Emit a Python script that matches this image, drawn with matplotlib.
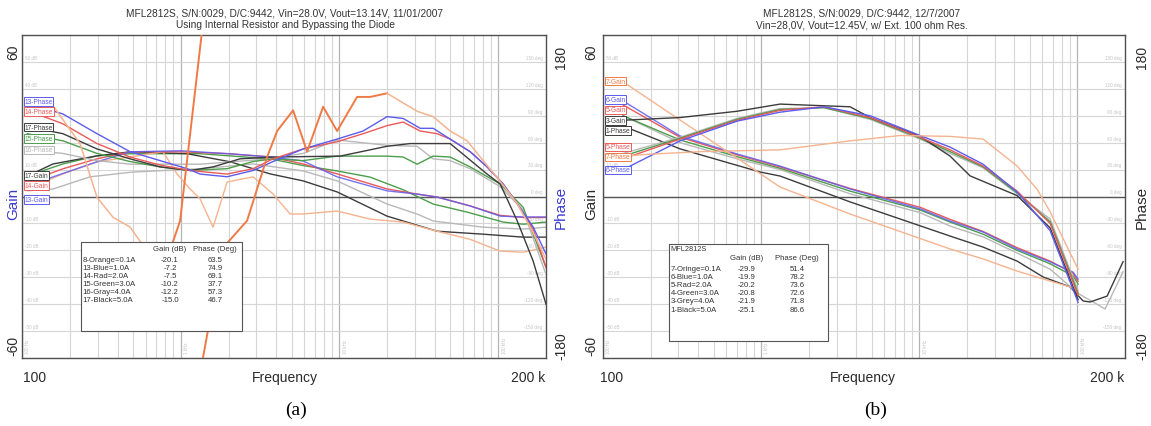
import numpy as np
import matplotlib
matplotlib.use('Agg')
import matplotlib.pyplot as plt
from matplotlib.ticker import LogLocator, MultipleLocator, NullFormatter
from matplotlib.patches import Rectangle

plt.rcParams['font.family'] = ['Liberation Sans', 'DejaVu Sans']

W, H = 1151, 427

# ---------------- panel (a) data ----------------
a_title = ["MFL2812S, S/N:0029, D/C:9442, Vin=28.0V, Vout=13.14V, 11/01/2007",
           "Using Internal Resistor and Bypassing the Diode"]

a8_gain_f = [108, 181, 297, 479, 773, 948, 1146, 1325, 1598, 1959, 2858, 3821, 4889, 5902, 9663,
             15600, 25180, 41210, 66500, 102800, 143600, 200000]
a8_gain = [2.8, 8.4, 12.9, 14.7, 16.6, 8.4, 2.8, -0.9, -11.4, 5.4, 7.3, 0.9, -6.5, -6.5, -5.4,
           -8.4, -9.5, -12.9, -15.9, -20.3, -20.7, -18.8]
a8_phase_f = [108, 157, 232, 297, 374, 479, 614, 741, 857, 991, 1363, np.nan, 1363, 1849, 2618,
              3500, 4048, 5105, 6252, 7889, 9663, 12920, 15600, 19950, 30840, 38900, 49800,
              63700, 80400, 102800, 131600, 166000, 200000]
a8_phase = [100, 101, 59, -1, -23, -34, -61, -100, -60, -27, 185, np.nan, -185, -57, -27,
            44, 73, 96, 50, 100, 73, 111, 111, 115, 95, 89, 73,
            62, 40, 17, -8, -40, -70]

a13_gain_f = [108, 157, 297, 479, 1000, 2000, 3657, 5902, 9663, 19950, 30840, 41210, 66500, 102800, 143600, 200000]
a13_gain = [3.5, 7.3, 12.9, 16.6, 17.0, 15.9, 14.7, 13.2, 7.3, 2.1, 0.9, -0.2, -3.5, -7.3, -7.6, -7.6]
a13_phase_f = [108, 181, 297, 479, 741, 1097, 1325, 1959, 2858, 3821, 5902, 9663, 14090, 19950, 25180,
               32220, 38900, 49800, 66500, 85100, 107400, 131600, 166000, 200000]
a13_phase = [104, 92, 70, 50, 40, 31, 25, 22, 29, 39, 53, 64, 73, 89, 87,
             76, 76, 64, 50, 33, 14, -8, -34, -64]

a14_gain_f = [108, 181, 297, 479, 1000, 2000, 3657, 5902, 9663, 19950, 30840, 41210, 66500, 102800, 143600, 200000]
a14_gain = [5.4, 10.3, 14.0, 16.6, 16.6, 15.9, 14.7, 12.1, 8.4, 2.8, 0.9, -0.2, -3.5, -7.0, -7.8, -7.8]
a14_phase_f = [108, 181, 297, 479, 741, 1146, 1959, 2858, 3821, 5902, 9663, 14090, 19950, 25180,
               32220, 41210, 49800, 66500, 85100, 107400, 131600, 166000, 200000]
a14_phase = [96, 81, 59, 44, 35, 29, 25, 31, 42, 53, 61, 70, 79, 83,
             73, 70, 64, 50, 33, 14, -8, -36, -79]

a15_gain_f = [108, 181, 297, 479, 1325, 3657, 5902, 9663, 15600, 25180, 38900, 63700, 107400, 143600, 200000]
a15_gain = [7.6, 12.1, 15.1, 15.9, 15.9, 14.0, 11.5, 9.5, 7.2, 2.5, -2.8, -5.8, -9.5, -10.3, -9.5]
a15_phase_f = [108, 181, 297, 479, 741, 1146, 1959, 2858, 3821, 5902, 9663, 19950, 25180, 30840,
               38900, 49800, 66500, 102800, 143600, 200000]
a15_phase = [70, 62, 48, 39, 33, 29, 31, 39, 42, 40, 45, 45, 44, 36,
             45, 44, 33, 14, -12, -79]

a16_gain_f = [108, 157, 268, 500, 1325, 2858, 5902, 9663, 19950, 30840, 38900, 80400, 143600, 200000]
a16_gain = [2.1, 2.8, 7.3, 9.1, 10.3, 12.1, 9.5, 5.8, -2.8, -6.5, -9.1, -11.4, -12.1, -11.4]
a16_phase_f = [108, 181, 297, 479, 1325, 3657, 5902, 9663, 19950, 30840, 38900, 49800, 66500, 102800, 143600, 200000]
a16_phase = [52, 48, 40, 36, 36, 42, 48, 63, 57, 56, 42, 40, 31, 11, -15, -87]

a17_gain_f = [108, 157, 297, 479, 1097, 2047, 3657, 5902, 9663, 19950, 41210, 80400, 143600, 200000]
a17_gain = [7.6, 12.1, 15.1, 16.6, 15.9, 12.9, 8.4, 5.8, 1.7, -7.3, -12.9, -14.0, -15.1, -15.1]
a17_phase_f = [108, 181, 297, 479, 741, 1146, 1598, 2366, 3821, 10090, 19950, 27870, 49800, 85100,
               102800, 131600, 166000, 200000]
a17_phase = [78, 70, 53, 42, 33, 29, 33, 42, 44, 45, 56, 59, 59, 25,
             14, -27, -72, -120]

a_tab_names = ["8-Orange=0.1A", "13-Blue=1.0A", "14-Rad=2.0A", "15-Green=3.0A", "16-Gray=4.0A", "17-Black=5.0A"]
a_tab_gain = ["-20.1", "-7.2", "-7.5", "-10.2", "-12.2", "-15.0"]
a_tab_phase = ["63.5", "74.9", "69.1", "37.7", "57.3", "46.7"]

# ---------------- panel (b) data ----------------
b_title = ["MFL2812S, S/N:0029, D/C:9442, 12/7/2007",
           "Vin=28,0V, Vout=12.45V, w/ Ext. 100 ohm Res."]

b7_gain_f = [134, 307, 704, 1318, 3650, 15670, 25330, 41560, 67200, 89960, 101000]
b7_gain = [42.6, 28.4, 14.3, 3.5, -6.5, -19.5, -23.2, -27.7, -31.4, -33.6, -35.5]
b7_phase_f = [134, 190, 411, 1318, 3650, 7565, 15670, 25330, 41560, 55620, 67200, 81250, 101000]
b7_phase = [45, 47, 50, 52, 62, 68, 67, 64, 34, 8, -17, -47, -81]

b_gain_f = [134, 307, 704, 1318, 3650, 10120, 15670, 25330, 41560, 67200, 93970, 101000]
b6_gain = [35.5, 22.5, 15.8, 11.3, 2.8, -4.6, -9.1, -13.2, -19.5, -24.3, -28.1, -30.7]
b5_gain = [34.0, 22.0, 15.5, 11.0, 3.0, -4.0, -8.5, -13.0, -19.0, -24.0, -28.5, -31.5]
b4_gain = [30.0, 21.0, 14.8, 10.5, 2.0, -5.0, -9.5, -14.0, -20.0, -25.0, -29.5, -32.5]

b3_gain_f = [134, 307, 704, 1318, 3650, 10120, 15670, 25330, 41560, 67200, 101000, 125700, 149600, 194500]
b3_gain = [30.0, 20.0, 14.0, 10.0, 1.0, -6.0, -11.0, -15.0, -21.0, -27.0, -36.0, -39.2, -41.8, -28.0]
b1_gain_f = [134, 307, 985, 1318, 3650, 15670, 25330, 41560, 60710, 89960, 108600, 120300, 154100, 194500]
b1_gain = [26.2, 17.7, 9.1, 7.6, -2.0, -14.7, -18.8, -24.0, -29.9, -33.6, -38.8, -39.2, -37.0, -24.2]

b_phase_f = [134, 307, 704, 1318, 2500, 4885, 10120, 15670, 25330, 41560, 67200, 101000]
b6_phase = [30, 62, 84, 94, 100, 90, 68, 55, 36, 5, -38, -118]
b5_phase = [42, 64, 85, 96, 100, 88, 66, 52, 34, 6, -30, -110]
b4_phase = [45, 65, 86, 97, 99, 87, 65, 50, 33, 4, -28, -108]
b3_phase = [48, 66, 87, 98, 99, 86, 64, 48, 32, 3, -25, -105]
b1_phase_f = [134, 307, 704, 1318, 3650, 4885, 10120, 15670, 20950, 41560, 67200, 101000]
b1_phase = [85, 88, 95, 103, 100, 88, 67, 45, 23, 1, -35, -115]

b_tab_names = ["7-Oringe=0.1A", "6-Blue=1.0A", "5-Rad=2.0A", "4-Green=3.0A", "3-Grey=4.0A", "1-Black=5.0A"]
b_tab_gain = ["-29.9", "-19.9", "-20.2", "-20.8", "-21.9", "-25.1"]
b_tab_phase = ["51.4", "78.2", "73.6", "72.6", "71.8", "86.6"]

# ---------------- colours ----------------
C_OR = '#f07a45'
C_ORL = '#f6b38f'
C_BL = '#5c5cf0'
C_RD = '#ea5a5a'
C_GR = '#4c9e4c'
C_GY = '#b8b8b8'
C_BK = '#3c3c3c'
C_TXT = '#2a2a2a'


def fx(x):
    return x / W


def fy(y):
    return 1 - y / H


fig = plt.figure(figsize=(W / 100, H / 100), dpi=100)
fig.patch.set_facecolor('white')

TOP, BOT = 36, 359


def make_axes(x0, x1, hidden_db):
    ax = fig.add_axes([fx(x0), fy(BOT), (x1 - x0) / W, (BOT - TOP) / H])
    ax.set_xscale('log')
    ax.set_xlim(100, 200000)
    ax.set_ylim(-60, 60)
    ax.xaxis.set_major_locator(LogLocator(base=10, numticks=10))
    ax.xaxis.set_minor_locator(LogLocator(base=10, subs=np.arange(2, 10), numticks=100))
    ax.xaxis.set_minor_formatter(NullFormatter())
    ax.yaxis.set_major_locator(MultipleLocator(10))
    ax.grid(which='major', axis='x', color='#b4b4b4', lw=0.9)
    ax.grid(which='minor', axis='x', color='#d6d6d6', lw=0.8)
    ax.grid(which='major', axis='y', color='#d6d6d6', lw=0.8)
    ax.set_axisbelow(True)
    ax.tick_params(which='both', length=0, labelleft=False, labelbottom=False)
    ax.axhline(0, color='#555555', lw=1.0, zorder=1)
    for s in ax.spines.values():
        s.set_color('#505050')
        s.set_linewidth(1.0)
    # faint inner labels (those covered by trace labels in the original are left out)
    for v in range(50, -60, -10):
        if v == 0:
            continue
        if v not in hidden_db:
            ax.text(104, v + 0.8, f"{v} dB", fontsize=3.3, color='#c4c4c4', va='bottom', ha='left', zorder=0.5)
        ax.text(190000, v + 0.8, f"{3 * v} deg", fontsize=3.3, color='#c4c4c4', va='bottom', ha='right', zorder=0.5)
    ax.text(190000, 0.8, "0 deg", fontsize=3.3, color='#c4c4c4', va='bottom', ha='right', zorder=0.5)
    for f, t in [(100, "100 Hz"), (1000, "1 kHz"), (10000, "10 kHz"), (100000, "100 kHz")]:
        ax.text(f * 1.05, -58, t, fontsize=3.3, color='#c4c4c4', rotation=90, va='bottom', ha='left', zorder=0.5)
    ax2 = ax.twinx()
    ax2.set_ylim(-180, 180)
    ax2.tick_params(which='both', length=0, labelright=False)
    for s in ax2.spines.values():
        s.set_visible(False)
    return ax, ax2


# ================= panel (a) =================
axa, axa2 = make_axes(22, 546, hidden_db=(30, 20))
axa.plot(a16_gain_f, a16_gain, color=C_GY, lw=1.0)
axa.plot(a15_gain_f, a15_gain, color=C_GR, lw=1.0)
axa.plot(a17_gain_f, a17_gain, color=C_BK, lw=1.0)
axa.plot(a8_gain_f, a8_gain, color=C_ORL, lw=1.0)
axa.plot(a14_gain_f, a14_gain, color=C_RD, lw=1.0)
axa.plot(a13_gain_f, a13_gain, color=C_BL, lw=1.0, alpha=0.85)
axa2.plot(a16_phase_f, a16_phase, color=C_GY, lw=1.0)
axa2.plot(a15_phase_f, a15_phase, color=C_GR, lw=1.0)
axa2.plot(a17_phase_f, a17_phase, color=C_BK, lw=1.0)
axa2.plot(a14_phase_f, a14_phase, color=C_RD, lw=1.0)
axa2.plot(a13_phase_f, a13_phase, color=C_BL, lw=1.0)
# unit 8 phase: thin light part at low frequency, bold part afterwards
axa2.plot(a8_phase_f[:8], a8_phase[:8], color=C_ORL, lw=1.1)
axa2.plot(a8_phase_f[7:24], a8_phase[7:24], color=C_OR, lw=1.4)
axa2.plot(a8_phase_f[23:], a8_phase[23:], color=C_ORL, lw=1.1)

# ================= panel (b) =================
axb, axb2 = make_axes(603, 1125, hidden_db=(40, 30, 20))
axb.plot(b3_gain_f, b3_gain, color=C_GY, lw=1.0)
axb.plot(b_gain_f, b4_gain, color=C_GR, lw=1.0)
axb.plot(b1_gain_f, b1_gain, color=C_BK, lw=1.0)
axb.plot(b_gain_f, b5_gain, color=C_RD, lw=1.0)
axb.plot(b_gain_f, b6_gain, color=C_BL, lw=1.0, alpha=0.85)
axb.plot(b7_gain_f, b7_gain, color=C_ORL, lw=1.0)
axb2.plot(b_phase_f, b3_phase, color=C_GY, lw=1.0)
axb2.plot(b_phase_f, b4_phase, color=C_GR, lw=1.0)
axb2.plot(b1_phase_f, b1_phase, color=C_BK, lw=1.0)
axb2.plot(b_phase_f, b5_phase, color=C_RD, lw=1.0)
axb2.plot(b_phase_f, b6_phase, color=C_BL, lw=1.0)
axb2.plot(b7_phase_f, b7_phase, color=C_ORL, lw=1.0)

# ---------------- titles & axis texts ----------------
for cx, title in [(285, a_title), (862, b_title)]:
    fig.text(fx(cx), fy(14), title[0], ha='center', va='center', fontsize=7.3, color='#333333')
    fig.text(fx(cx), fy(25.5), title[1], ha='center', va='center', fontsize=7.3, color='#333333')

side = [
    (13, 561, '#3a3ad0', '#3a3ad0'),
    (591, 1142, C_TXT, C_TXT),
]
for lx, rx, gcol, pcol in side:
    fig.text(fx(lx), fy(52), "60", rotation=90, ha='center', va='center', fontsize=10, color=C_TXT)
    fig.text(fx(lx), fy(204), "Gain", rotation=90, ha='center', va='center', fontsize=11, color=gcol)
    fig.text(fx(lx), fy(346), "-60", rotation=90, ha='center', va='center', fontsize=10, color=C_TXT)
    fig.text(fx(rx), fy(57), "180", rotation=90, ha='center', va='center', fontsize=10, color=C_TXT)
    fig.text(fx(rx), fy(207), "Phase", rotation=90, ha='center', va='center', fontsize=11, color=pcol)
    fig.text(fx(rx), fy(346), "-180", rotation=90, ha='center', va='center', fontsize=10, color=C_TXT)

for x100, xf, x200, xl, lab in [(35, 285, 528, 296, "(a)"), (612, 863, 1107, 876, "(b)")]:
    fig.text(fx(x100), fy(378), "100", ha='center', va='center', fontsize=10, color=C_TXT)
    fig.text(fx(xf), fy(378), "Frequency", ha='center', va='center', fontsize=10, color=C_TXT)
    fig.text(fx(x200), fy(378), "200 k", ha='center', va='center', fontsize=10, color=C_TXT)
    fig.text(fx(xl), fy(410), lab, ha='center', va='center', fontsize=14, color='black',
             family=['Liberation Serif', 'DejaVu Serif'])

# ---------------- trace labels ----------------
a_labels = [("16-Phase", C_GY, 151), ("15-Phase", C_GR, 139.5), ("17-Phase", C_BK, 128),
            ("14-Phase", C_RD, 112.5), ("13-Phase", C_BL, 102.5),
            ("17-Gain", C_BK, 176.5), ("14-Gain", C_RD, 186.5), ("13-Gain", C_BL, 200.5)]
b_labels = [("7-Gain", C_OR, 82), ("6-Gain", C_BL, 100.5), ("5-Gain", C_RD, 111),
            ("3-Gain", C_BK, 121.5), ("1-Phase", C_BK, 131.5), ("5-Phase", C_RD, 148),
            ("7-Phase", C_OR, 158), ("6-Phase", C_BL, 171)]
for x0, labels in [(24.5, a_labels), (605.5, b_labels)]:
    for txt, col, y in labels:
        fig.text(fx(x0), fy(y), txt, ha='left', va='center', fontsize=4.8, color=col, zorder=8,
                 bbox=dict(boxstyle='square,pad=0.1', fc='white', ec=col, lw=0.7))

# ---------------- tables ----------------
def table(x0, x1, y0, y1, names, gains, phases, gx, phx, hy, ry0, header=None):
    fig.add_artist(Rectangle((fx(x0), fy(y1)), (x1 - x0) / W, (y1 - y0) / H, transform=fig.transFigure,
                             facecolor='white', edgecolor='#555555', lw=0.8, zorder=6))
    if header:
        fig.text(fx(x0 + 1.5), fy(y0 + 5), header, ha='left', va='center', fontsize=5.3, color='#333333', zorder=7)
    fig.text(fx(gx), fy(hy), "Gain (dB)", ha='center', va='center', fontsize=5.6, color='#333333', zorder=7)
    fig.text(fx(phx), fy(hy), "Phase (Deg)", ha='center', va='center', fontsize=5.6, color='#333333', zorder=7)
    for i, (n, g, p) in enumerate(zip(names, gains, phases)):
        yy = ry0 + 8.1 * i
        fig.text(fx(x0 + 1.5), fy(yy), n, ha='left', va='center', fontsize=5.6, color='#333333', zorder=7)
        fig.text(fx(gx), fy(yy), g, ha='center', va='center', fontsize=5.6, color='#333333', zorder=7)
        fig.text(fx(phx), fy(yy), p, ha='center', va='center', fontsize=5.6, color='#333333', zorder=7)


table(81, 242, 243, 332, a_tab_names, a_tab_gain, a_tab_phase, 170, 215, 250, 260)
table(669, 828, 245, 342, b_tab_names, b_tab_gain, b_tab_phase, 747, 797, 259, 269.5, header="MFL2812S")

fig.savefig('out.png', dpi=100, facecolor='white')
